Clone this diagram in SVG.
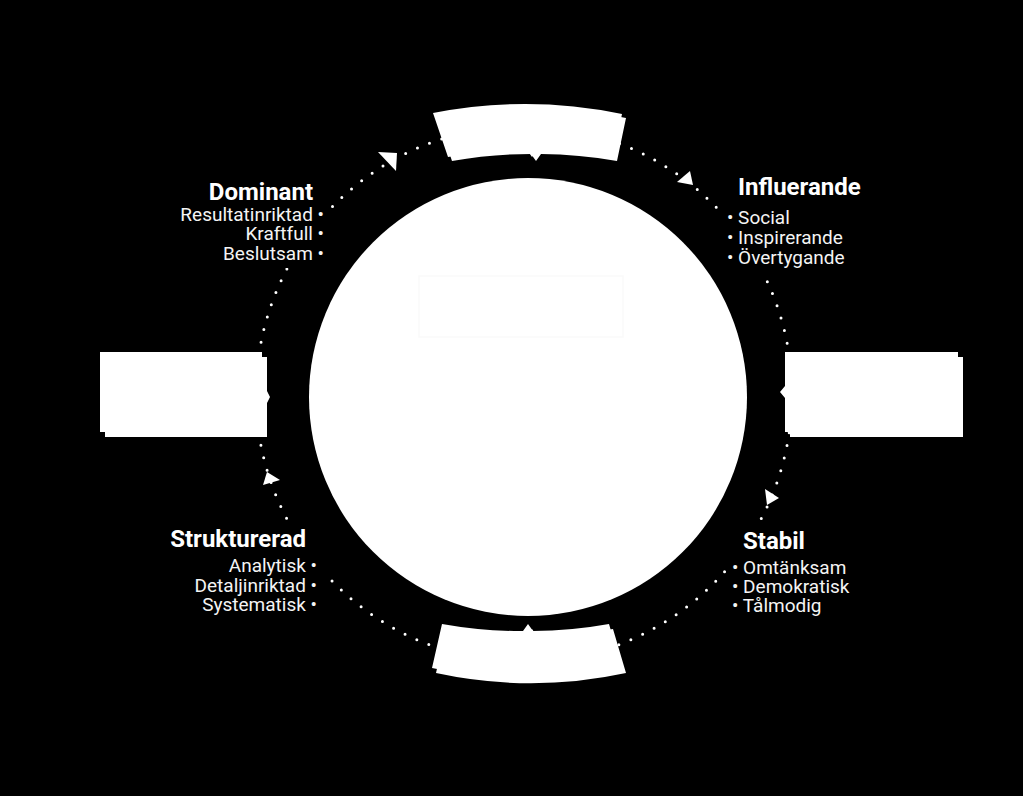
<svg xmlns="http://www.w3.org/2000/svg" width="1023" height="796" viewBox="0 0 1023 796">
<defs>
<style>
.title{font-family:Roboto,"Liberation Sans",sans-serif;font-weight:700;font-size:24px;fill:#fff}
.item{font-family:Roboto,"Liberation Sans",sans-serif;font-weight:400;font-size:19px;fill:#f4f4f4}
.shape{fill:#fff}
.dots{fill:none;stroke:#fff;stroke-width:3;stroke-linecap:round;stroke-dasharray:0 12.953}
.arrow{fill:#fff}
</style>
<mask id="textgap" maskUnits="userSpaceOnUse" x="0" y="0" width="1023" height="796">
<rect x="0" y="0" width="1023" height="796" fill="#fff"/>
<rect x="170" y="176" width="159" height="92" fill="#000"/>
<rect x="720" y="172" width="150" height="100" fill="#000"/>
<rect x="165" y="522" width="160" height="96" fill="#000"/>
<rect x="729" y="524" width="130" height="96" fill="#000"/>
</mask>
</defs>
<rect x="0" y="0" width="1023" height="796" fill="#000"/>

<g id="connectors">
<circle class="dots" cx="524" cy="394" r="268" mask="url(#textgap)"/>
<polygon class="arrow" points="378,152 397,153 396,171"/>
<polygon class="arrow" points="690,171 677,182 693,185"/>
<polygon class="arrow" points="765,489 779,498 767,505"/>
<polygon class="arrow" points="267,472 280,480 263,485"/>
</g>

<g id="node-center">
<circle class="shape" cx="528" cy="397" r="219"/>
<rect x="419" y="276" width="204" height="61" fill="none" stroke="#fafafa" stroke-width="1.5"/>
</g>

<g id="node-top">
<path class="shape" transform="translate(4,4)" d="M433,113 A480,480 0 0 1 622,114 L613,157 A450,450 0 0 0 537,150 L532,157 L527,150 A450,450 0 0 0 448,157 Z"/>
<path class="shape" d="M433,113 A480,480 0 0 1 622,114 L613,157 A450,450 0 0 0 537,150 L532,157 L527,150 A450,450 0 0 0 448,157 Z"/>
</g>

<g id="node-bottom">
<path class="shape" transform="translate(4,5)" d="M442,624 A440,440 0 0 0 523,631 L528,624 L533,631 A440,440 0 0 0 609,624 L622,668 A450,450 0 0 1 432,668 Z"/>
<path class="shape" d="M442,624 A440,440 0 0 0 523,631 L528,624 L533,631 A440,440 0 0 0 609,624 L622,668 A450,450 0 0 1 432,668 Z"/>
</g>

<g id="node-left">
<path class="shape" transform="translate(5,5)" d="M100,352 H262 V386 L265,392 L262,398 V432 H100 Z"/>
<path class="shape" d="M100,352 H262 V386 L265,392 L262,398 V432 H100 Z"/>
</g>

<g id="node-right">
<path class="shape" transform="translate(5,5)" d="M785,352 H958 V432 H785 V398 L780,392 L785,386 Z"/>
<path class="shape" d="M785,352 H958 V432 H785 V398 L780,392 L785,386 Z"/>
</g>

<g id="label-dominant" text-anchor="end">
<text class="title" x="313" y="200">Dominant</text>
<text class="item" x="324" y="221">Resultatinriktad •</text>
<text class="item" x="324" y="240">Kraftfull •</text>
<text class="item" x="324" y="260">Beslutsam •</text>
</g>

<g id="label-influerande">
<text class="title" x="738" y="195">Influerande</text>
<text class="item" x="727" y="224">• Social</text>
<text class="item" x="727" y="244">• Inspirerande</text>
<text class="item" x="727" y="264">• Övertygande</text>
</g>

<g id="label-strukturerad" text-anchor="end">
<text class="title" x="306" y="547">Strukturerad</text>
<text class="item" x="317" y="572">Analytisk •</text>
<text class="item" x="317" y="592">Detaljinriktad •</text>
<text class="item" x="317" y="611">Systematisk •</text>
</g>

<g id="label-stabil">
<text class="title" x="743" y="549">Stabil</text>
<text class="item" x="732" y="574">• Omtänksam</text>
<text class="item" x="732" y="593">• Demokratisk</text>
<text class="item" x="732" y="612">• Tålmodig</text>
</g>
</svg>
